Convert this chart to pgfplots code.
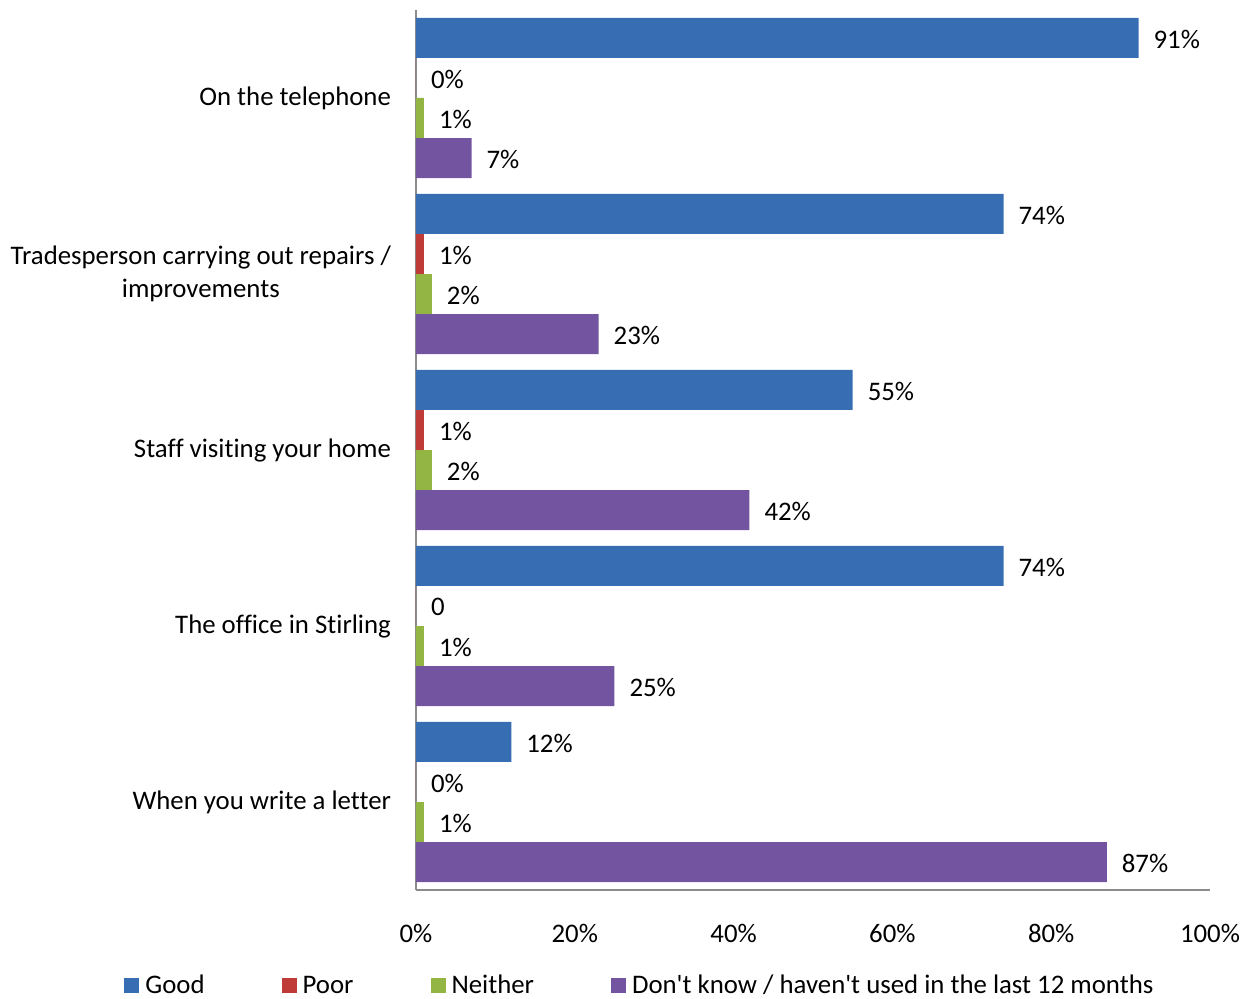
\documentclass[border=0pt]{standalone}
\usepackage{pgfplots}
\pgfplotsset{compat=1.18}
\usepackage{fontspec}
\setmainfont{Carlito}[Ligatures={NoCommon}]
\definecolor{cgood}{HTML}{376DB3}
\definecolor{cpoor}{HTML}{BE3B37}
\definecolor{cneit}{HTML}{93B544}
\definecolor{cdk}{HTML}{7354A0}
\begin{document}
\begin{tikzpicture}[font=\fontsize{13.4}{16.5}\selectfont]
\useasboundingbox (-208pt,-54pt) rectangle (420.5pt,445pt);
\begin{axis}[
  scale only axis, width=397pt, height=440pt,
  xbar, bar width=0.2273,
  xmin=0, xmax=100, ymin=-0.5, ymax=4.5,
  axis x line=bottom, axis y line=left,
  axis line style={-, draw=black!45, line width=1pt},
  major tick length=0pt,
  xtick={0,20,...,100},
  xticklabel={\pgfmathprintnumber{\tick}\%},
  xticklabel style={yshift=-13.5pt},
  ytick={0,1,2,3,4},
  yticklabels={When you write a letter, The office in Stirling, Staff visiting your home, {Tradesperson carrying out repairs /\\improvements}, On the telephone},
  yticklabel style={align=center, xshift=-9pt},
  /pgf/number format/assume math mode=true,
  point meta=explicit symbolic,
  nodes near coords,
  nodes near coords style={anchor=west, xshift=4pt, yshift=-0.5pt, font=\fontsize{13.4}{16}\selectfont, black},
  legend columns=4,
  legend style={at={(-0.3678,-0.109)}, anchor=west, draw=none, fill=none, inner sep=0pt,
    font=\fontsize{13.4}{16}\selectfont,
    /tikz/every even column/.append style={column sep=36.5pt}},
  legend image code/.code={\fill[#1] (0pt,-3.5pt) rectangle (7.5pt,4pt); \path (8.5pt,0pt);},
]
\addplot[draw=none, fill=cgood, bar shift=0.341] coordinates {
  (12,0) [12\%] (74,1) [74\%] (55,2) [55\%] (74,3) [74\%] (91,4) [91\%]};
\addplot[draw=none, fill=cpoor, bar shift=0.1136] coordinates {
  (0,0) [0\%] (0,1) [0] (1,2) [1\%] (1,3) [1\%] (0,4) [0\%]};
\addplot[draw=none, fill=cneit, bar shift=-0.1136] coordinates {
  (1,0) [1\%] (1,1) [1\%] (2,2) [2\%] (2,3) [2\%] (1,4) [1\%]};
\addplot[draw=none, fill=cdk, bar shift=-0.341] coordinates {
  (87,0) [87\%] (25,1) [25\%] (42,2) [42\%] (23,3) [23\%] (7,4) [7\%]};
\legend{Good, Poor, Neither, Don\textquotesingle t know / haven\textquotesingle t used in the last 12 months}
\end{axis}
\end{tikzpicture}
\end{document}
